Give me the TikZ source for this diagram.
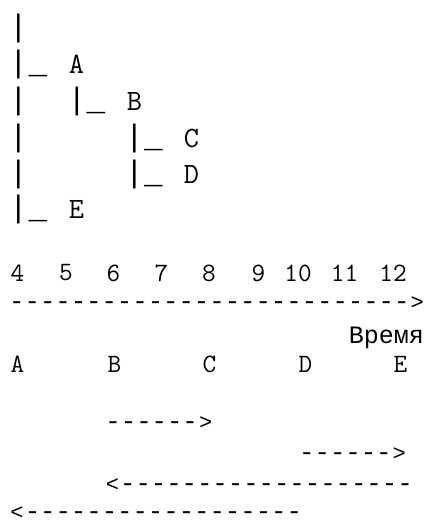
\documentclass[tikz,border=0pt]{standalone}
\usepackage{fontspec}
\newfontfamily\lmono{Liberation Mono}
\newcommand\cellbox[1]{\makebox[15.4pt][c]{#1}}
\newcommand\dd{\cellbox{-}}
\newcommand\gtch{\cellbox{\fontsize{22}{26}\selectfont >}}
\newcommand\ltch{\cellbox{\fontsize{22}{26}\selectfont <}}
\tikzset{
  treebar/.style={inner sep=0pt, font=\lmono\fontsize{31}{36}\selectfont},
  treeltr/.style={inner sep=0pt, font=\ttfamily\fontsize{29.5}{36}\selectfont},
  numtxt/.style={inner sep=0pt, font=\ttfamily\fontsize{26.5}{30}\selectfont},
  dashline/.style={inner sep=0pt, anchor=west, font=\lmono\fontsize{25.7}{30}\selectfont},
  timetxt/.style={inner sep=0pt, anchor=base east, font=\lmono\fontsize{25}{30}\selectfont}
}
\begin{document}
\begin{tikzpicture}[x=1pt,y=-1pt]
\useasboundingbox (0,0) rectangle (427,521);
% tree: vertical bars
\foreach \r/\y in {1/28,2/64.5,3/101,4/138,5/174,6/209}
  \node[treebar] (barz\r) at (18.5,\y) {|};
\node[treebar] (barB) at (77,101) {|};
\node[treebar] (barC) at (134.5,138) {|};
\node[treebar] (barD) at (134.5,174) {|};
% tree: underscores
\node[treebar] (usA) at (38,75.5) {\_};
\node[treebar] (usB) at (96,112) {\_};
\node[treebar] (usC) at (153.5,149) {\_};
\node[treebar] (usD) at (153.5,185) {\_};
\node[treebar] (usE) at (38,220) {\_};
% tree: letters
\node[treeltr] (tA) at (76.5,64.5) {A};
\node[treeltr] (tB) at (134.5,101) {B};
\node[treeltr] (tC) at (191.5,138) {C};
\node[treeltr] (tD) at (191.5,174) {D};
\node[treeltr] (tE) at (76.5,209) {E};
% time scale numbers
\foreach \n/\x in {4/17.5,5/66,6/113.5,7/161.5,8/209,9/258.5,10/298,11/344.5,12/393}
  \node[numtxt] (num\n) at (\x,273) {\n};
% axis
\node[dashline] (axis) at (9,303) {\dd\dd\dd\dd\dd\dd\dd\dd\dd\dd\dd\dd\dd\dd\dd\dd\dd\dd\dd\dd\dd\dd\dd\dd\dd\dd\gtch};
\node[timetxt] (time) at (424,343) {Время};
% letters on the time line
\node[numtxt] (lA) at (17.5,364.5) {A};
\node[numtxt] (lB) at (114.5,364.5) {B};
\node[numtxt] (lC) at (209.5,364.5) {C};
\node[numtxt] (lD) at (305.5,364.5) {D};
\node[numtxt] (lE) at (400.5,364.5) {E};
% arrows
\node[dashline] (arrA) at (105.3,423) {\dd\dd\dd\dd\dd\dd\gtch};
\node[dashline] (arrB) at (299,454) {\dd\dd\dd\dd\dd\dd\gtch};
\node[dashline] (arrC) at (104.5,485) {\ltch\dd\dd\dd\dd\dd\dd\dd\dd\dd\dd\dd\dd\dd\dd\dd\dd\dd\dd\dd};
\node[dashline] (arrD) at (9.2,513) {\ltch\dd\dd\dd\dd\dd\dd\dd\dd\dd\dd\dd\dd\dd\dd\dd\dd\dd\dd};
\end{tikzpicture}
\end{document}
